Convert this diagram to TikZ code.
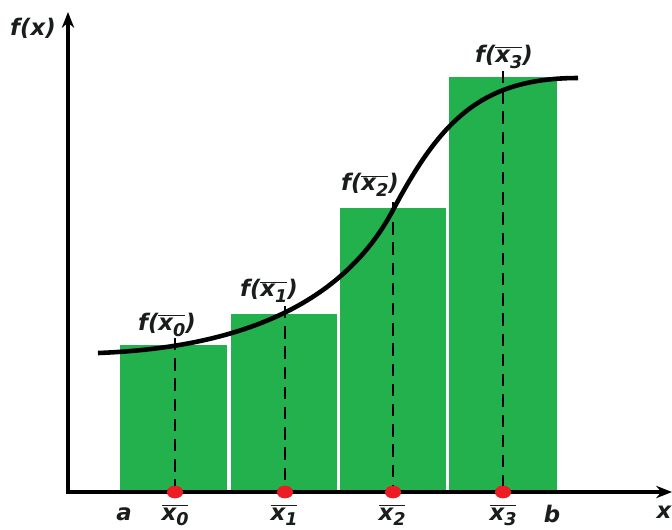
\documentclass[tikz,border=0pt]{standalone}
\usepackage{fontspec}
\setmainfont{DejaVu Sans}
\usetikzlibrary{arrows.meta,shapes.geometric}
\definecolor{barcol}{RGB}{34,177,76}
\definecolor{dotcol}{RGB}{237,28,36}
\definecolor{txtcol}{RGB}{25,30,28}
% sample point x with bar and index
\newcommand{\xsub}[1]{$\overline{\mbox{x\raisebox{-0.45ex}{\fontsize{10}{10}\selectfont #1}}}$}
\tikzset{
  % the two axes, arrow at both free ends
  axis/.style={line width=2.8pt, line join=miter, {Stealth[length=9pt,width=7pt]}-{Stealth[length=9pt,width=7pt]}},
  % rectangle of the Riemann sum
  bar/.style={fill=barcol},
  % sample point on the x axis
  dotnode/.style={ellipse, fill=dotcol, minimum width=0.32cm, minimum height=0.25cm, inner sep=0pt},
  % text labels
  lbl/.style={font=\fontsize{13}{15}\selectfont\bfseries\itshape, text=txtcol, inner sep=1pt},
  % guide from the value down to the axis
  guide/.style={dash pattern=on 7pt off 4.5pt, line width=0.8pt},
  % the function
  curve/.style={line width=2.6pt, line cap=butt},
}
\begin{document}
\begin{tikzpicture}[x=0.02cm, y=-0.02cm]
  \useasboundingbox (0,0) rectangle (672,529);

  % rectangles
  \fill[bar] (120,492) rectangle (227,345);
  \fill[bar] (231,492) rectangle (337,314);
  \fill[bar] (340,492) rectangle (446,208);
  \fill[bar] (449,492) rectangle (557,77);

  % sample points and guides
  \node[dotnode] (d0) at (175,492) {};
  \node[dotnode] (d1) at (285,492) {};
  \node[dotnode] (d2) at (393,492) {};
  \node[dotnode] (d3) at (503,492) {};
  \coordinate (t0) at (175,338);
  \coordinate (t1) at (285,306);
  \coordinate (t2) at (393,202);
  \coordinate (t3) at (503,71);
  \draw[guide] (t0) -- (d0.center);
  \draw[guide] (t1) -- (d1.center);
  \draw[guide] (t2) -- (d2.center);
  \draw[guide] (t3) -- (d3.center);

  % f(x)
  \coordinate (c0) at (98,353);
  \coordinate (cm) at (393,210);
  \coordinate (c1) at (578,78);
  \draw[curve] (c0) .. controls (230,348) and (340,310) .. (cm)
               .. controls (440,122) and (480,78) .. (c1);

  % axes
  \coordinate (O) at (68,492);
  \coordinate (yend) at (68,12);
  \coordinate (xend) at (672,492);
  \draw[axis] (yend) -- (O) -- (xend);
  \foreach \i in {0,...,3} {\node[dotnode] at (d\i) {};}

  % labels
  \node[lbl] (fx) at (33,28) {f(x)};
  \node[lbl] (xl) at (664,512) {x};
  \node[lbl] (la) at (124,514) {a};
  \node[lbl] (lb) at (552,514) {b};
  \node[lbl] (x0) at (175,515) {\xsub{0}};
  \node[lbl] (x1) at (284,515) {\xsub{1}};
  \node[lbl] (x2) at (392,515) {\xsub{2}};
  \node[lbl] (x3) at (503,515) {\xsub{3}};
  \node[lbl] (f0) at (167,325) {f(\xsub{0})};
  \node[lbl] (f1) at (269,291) {f(\xsub{1})};
  \node[lbl] (f2) at (370,185) {f(\xsub{2})};
  \node[lbl] (f3) at (504,57) {f(\xsub{3})};
\end{tikzpicture}
\end{document}
